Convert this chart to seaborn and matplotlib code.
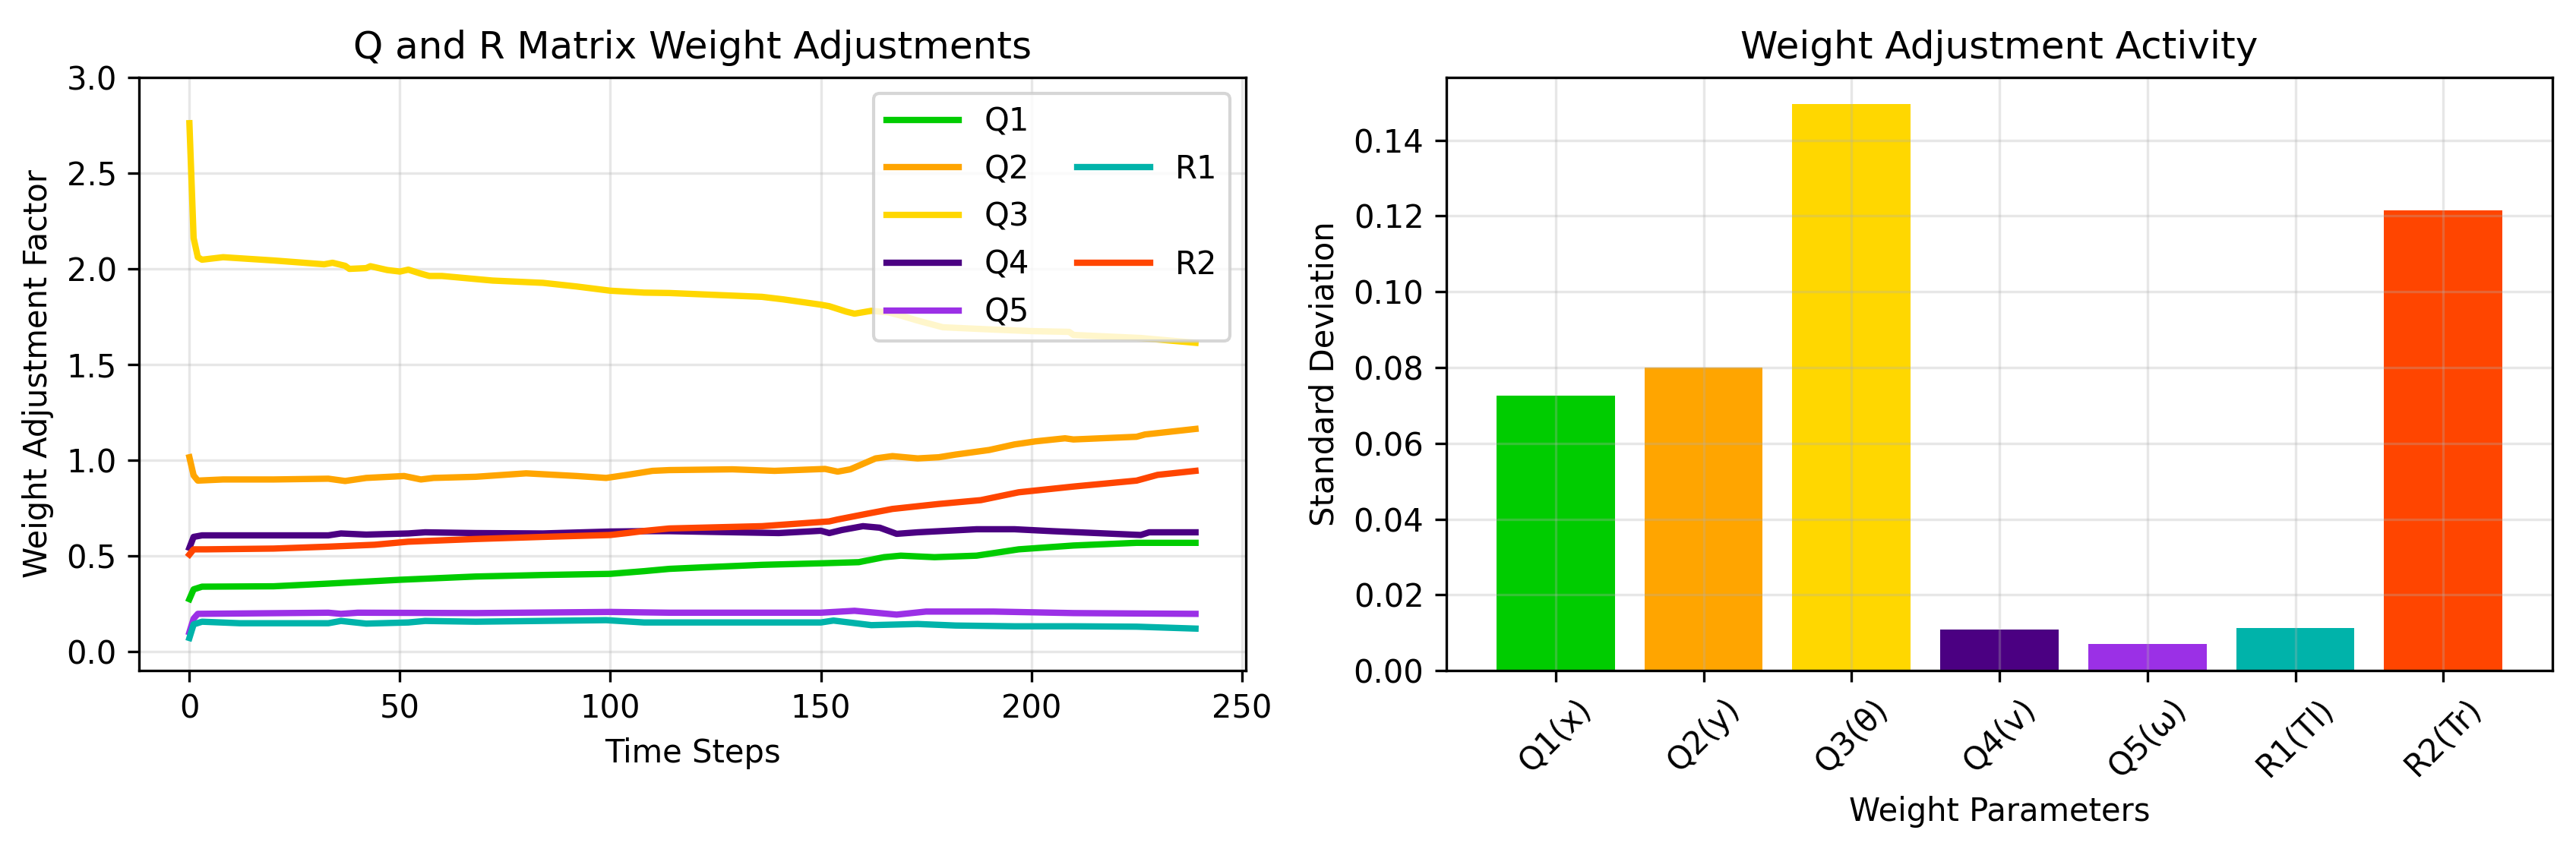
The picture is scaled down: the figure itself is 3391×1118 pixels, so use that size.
import matplotlib
matplotlib.use("Agg")
import matplotlib.pyplot as plt
from matplotlib.lines import Line2D
import seaborn as sns
import pandas as pd

# --- line data: time step / factor pairs ---
q1_t = [0, 1, 3, 20, 33, 50, 68, 84, 100, 108, 114, 122, 136, 150, 159, 165, 169, 177, 187, 197, 210, 225, 239]
q1_v = [0.274, 0.325, 0.339, 0.341, 0.355, 0.375, 0.392, 0.400, 0.406, 0.420, 0.432, 0.440, 0.453, 0.461,
        0.467, 0.493, 0.501, 0.493, 0.501, 0.534, 0.554, 0.568, 0.568]

q2_t = [0, 1, 2, 8, 20, 33, 37, 42, 51, 55, 58, 68, 80, 92, 99, 104, 110, 114, 129, 139, 151, 154, 157,
        163, 167, 173, 178, 182, 190, 196, 201, 208, 210, 225, 227, 239]
q2_v = [1.015, 0.92, 0.893, 0.899, 0.899, 0.903, 0.891, 0.907, 0.917, 0.899, 0.907, 0.913, 0.931, 0.917,
        0.907, 0.923, 0.944, 0.948, 0.952, 0.944, 0.954, 0.940, 0.952, 1.009, 1.021, 1.009, 1.015, 1.029,
        1.053, 1.082, 1.098, 1.114, 1.108, 1.122, 1.134, 1.163]

q3_t = [0, 1, 2, 3, 8, 20, 32, 34, 37, 38, 42, 43, 47, 50, 52, 55, 57, 60, 72, 84, 92, 100, 108, 114,
        136, 141, 150, 152, 156, 158, 162, 166, 169, 173, 179, 191, 200, 209, 210, 226, 239]
q3_v = [2.76, 2.16, 2.06, 2.047, 2.06, 2.043, 2.023, 2.031, 2.015, 1.999, 2.003, 2.013, 1.993, 1.985,
        1.995, 1.974, 1.962, 1.962, 1.938, 1.926, 1.907, 1.885, 1.875, 1.873, 1.853, 1.840, 1.812, 1.804,
        1.776, 1.765, 1.780, 1.772, 1.755, 1.729, 1.694, 1.682, 1.674, 1.670, 1.654, 1.638, 1.613]

q4_t = [0, 1, 3, 20, 33, 36, 42, 52, 56, 68, 84, 100, 108, 114, 140, 150, 152, 155, 160, 164, 168, 173,
        187, 196, 205, 226, 228, 239]
q4_v = [0.542, 0.599, 0.607, 0.607, 0.607, 0.617, 0.611, 0.617, 0.623, 0.619, 0.617, 0.627, 0.629, 0.629,
        0.619, 0.631, 0.619, 0.635, 0.655, 0.647, 0.615, 0.623, 0.639, 0.639, 0.629, 0.609, 0.623, 0.623]

q5_t = [0, 1, 2, 33, 36, 40, 68, 100, 114, 150, 158, 163, 168, 175, 191, 210, 239]
q5_v = [0.101, 0.172, 0.197, 0.203, 0.197, 0.203, 0.201, 0.207, 0.203, 0.203, 0.213, 0.203, 0.193, 0.209,
        0.209, 0.201, 0.197]

r1_t = [0, 1, 3, 12, 33, 36, 42, 52, 56, 68, 99, 108, 150, 153, 162, 173, 182, 196, 210, 225, 239]
r1_v = [0.071, 0.142, 0.156, 0.148, 0.148, 0.160, 0.146, 0.152, 0.160, 0.156, 0.164, 0.152, 0.152, 0.162,
        0.138, 0.144, 0.136, 0.132, 0.132, 0.130, 0.120]

r2_t = [0, 1, 4, 20, 33, 44, 52, 68, 84, 100, 104, 108, 114, 136, 152, 154, 161, 167, 178, 188, 197, 210,
        225, 230, 239]
r2_v = [0.507, 0.534, 0.534, 0.538, 0.548, 0.558, 0.574, 0.588, 0.599, 0.609, 0.619, 0.630, 0.643, 0.655,
        0.680, 0.690, 0.720, 0.745, 0.771, 0.791, 0.832, 0.862, 0.893, 0.923, 0.944]

series_names = ["Q1", "Q2", "Q3", "Q4", "Q5", "R1", "R2"]
series_colors = ["#00cc00", "#ffa500", "#ffd700", "#4b0082", "#9b30e6", "#00b3aa", "#ff4500"]

# --- bar data ---
bar_labels = ["Q1(x)", "Q2(y)", "Q3(θ)", "Q4(v)", "Q5(ω)", "R1(Tl)", "R2(Tr)"]
bar_std = [0.0725, 0.0800, 0.1495, 0.0108, 0.0070, 0.0113, 0.1215]

plt.rcParams["font.family"] = ["DejaVu Sans"]
plt.rcParams["font.size"] = 10

fig, (ax1, ax2) = plt.subplots(1, 2, figsize=(3391 / 300, 1118 / 300), dpi=300)
fig.subplots_adjust(left=0.054, right=0.991, bottom=0.21, top=0.909, wspace=0.181)

line_data = [(q1_t, q1_v), (q2_t, q2_v), (q3_t, q3_v), (q4_t, q4_v), (q5_t, q5_v), (r1_t, r1_v), (r2_t, r2_v)]
for name, color, (t, v) in zip(series_names, series_colors, line_data):
    df = pd.DataFrame({"step": t, "value": v})
    sns.lineplot(data=df, x="step", y="value", color=color, lw=2, label=name,
                 estimator=None, ax=ax1)

ax1.set_ylim(-0.1, 3.0)
ax1.set_title("Q and R Matrix Weight Adjustments", fontsize=12)
ax1.set_xlabel("Time Steps")
ax1.set_ylabel("Weight Adjustment Factor")
ax1.grid(True, alpha=0.3)

# two-column legend with R1/R2 in rows 2 and 4 of the second column
handles, labels = ax1.get_legend_handles_labels()
blank = Line2D([], [], linestyle="none")
leg_h = handles[:5] + [blank, handles[5], blank, handles[6], blank]
leg_l = labels[:5] + ["", labels[5], "", labels[6], ""]
ax1.legend(leg_h, leg_l, ncol=2, loc="upper right", handlelength=2.3, columnspacing=1.5)

bar_df = pd.DataFrame({"param": bar_labels, "std": bar_std})
sns.barplot(data=bar_df, x="param", y="std", hue="param", palette=series_colors, legend=False,
            width=0.8, saturation=1, ax=ax2)
ax2.set_xlim(-0.74, 6.74)
ax2.set_ylim(0, 0.1566)
ax2.set_title("Weight Adjustment Activity", fontsize=12)
ax2.set_xlabel("Weight Parameters")
ax2.set_ylabel("Standard Deviation")
ax2.tick_params(axis="x", labelrotation=45)
ax2.grid(True, alpha=0.3)
ax2.set_axisbelow("line")
for p in ax2.patches:
    p.set_zorder(1)

fig.savefig("out.png", dpi=300)
